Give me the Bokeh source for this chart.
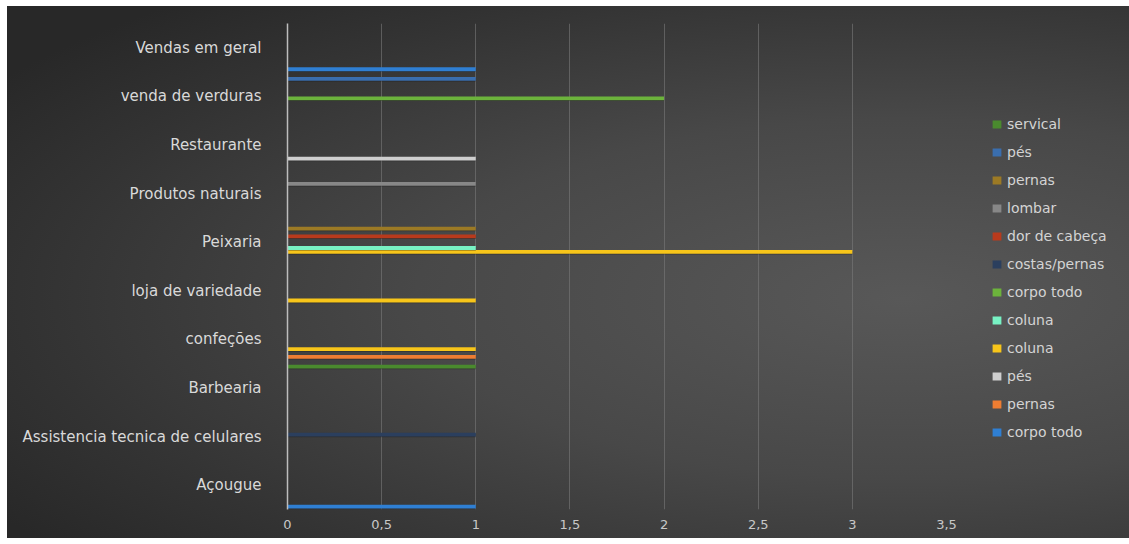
from bokeh.plotting import figure
from bokeh.models import (ColumnDataSource, FactorRange, Legend, LegendItem,
                          FixedTicker, CustomJSTickFormatter)
from bokeh.transform import dodge
from bokeh.embed import file_html
from bokeh.resources import INLINE

# categories, bottom to top (Excel order)
categories = ["Açougue", "Assistencia tecnica de celulares", "Barbearia", "confeções",
              "loja de variedade", "Peixaria", "Produtos naturais", "Restaurante",
              "venda de verduras", "Vendas em geral"]

# series in plotting order (series 1 drawn at the bottom of each category)
series_names = ["corpo todo", "pernas", "pés", "coluna", "coluna", "corpo todo",
                "costas/pernas", "dor de cabeça", "lombar", "pernas", "pés", "servical"]

s01_corpo_todo    = [1, 0, 0, 0, 0, 0, 0, 0, 0, 1]
s02_pernas        = [0, 0, 0, 1, 0, 0, 0, 0, 0, 0]
s03_pes           = [0, 0, 0, 0, 0, 0, 0, 1, 0, 0]
s04_coluna        = [0, 0, 0, 1, 1, 3, 0, 0, 0, 0]
s05_coluna        = [0, 0, 0, 0, 0, 1, 0, 0, 0, 0]
s06_corpo_todo    = [0, 0, 0, 0, 0, 0, 0, 0, 2, 0]
s07_costas_pernas = [0, 1, 0, 0, 0, 0, 0, 0, 0, 0]
s08_dor_cabeca    = [0, 0, 0, 0, 0, 1, 0, 0, 0, 0]
s09_lombar        = [0, 0, 0, 0, 0, 0, 1, 0, 0, 0]
s10_pernas        = [0, 0, 0, 0, 0, 1, 0, 0, 0, 0]
s11_pes           = [0, 0, 0, 0, 0, 0, 0, 0, 1, 0]
s12_servical      = [0, 0, 1, 0, 0, 0, 0, 0, 0, 0]

series_values = [s01_corpo_todo, s02_pernas, s03_pes, s04_coluna, s05_coluna,
                 s06_corpo_todo, s07_costas_pernas, s08_dor_cabeca, s09_lombar,
                 s10_pernas, s11_pes, s12_servical]

colors = ["#2f7fd3", "#ee7d32", "#cfcfcf", "#f7c51a", "#78f2c4", "#6cb33c",
          "#2b3f5e", "#b83a1c", "#878787", "#9c7a25", "#3a6eae", "#4a8a2e"]

x_ticks = [0, 0.5, 1, 1.5, 2, 2.5, 3, 3.5]

p = figure(frame_width=659, frame_height=486,
           y_range=FactorRange(*categories, range_padding=0),
           x_range=(0, 3.5), output_backend="svg", toolbar_location=None,
           min_border_left=280, min_border_right=183, min_border_top=17,
           min_border_bottom=29,
           styles={"margin-left": "7px", "margin-top": "6px",
                   "background": "radial-gradient(ellipse 70% 75% at 58% 55%, #585858 0%, #484848 45%, #333333 80%, #282828 100%)"})
p.background_fill_color = None
p.border_fill_color = None
p.outline_line_color = None

n = len(series_values)
slot = 1.0 / (n + 0.5)
renderers = []
for i, (vals, col) in enumerate(zip(series_values, colors)):
    src = ColumnDataSource(dict(cat=categories, val=vals))
    off = -0.5 + 0.25 * slot + (i + 0.5) * slot
    # shadow
    p.hbar(y=dodge("cat", off - 0.014, range=p.y_range), left=0, right="val",
           height=slot, source=src, fill_color="#151515", fill_alpha=0.4, line_color=None)
    r = p.hbar(y=dodge("cat", off, range=p.y_range), left=0, right="val",
               height=slot, source=src, fill_color=col, line_color=None)
    renderers.append(r)

# axes
p.xaxis.ticker = FixedTicker(ticks=x_ticks)
p.xaxis.formatter = CustomJSTickFormatter(code="return tick.toString().replace('.', ',');")
p.xaxis.axis_line_color = None
p.xaxis.major_tick_line_color = None
p.xaxis.minor_tick_line_color = None
p.xaxis.major_label_text_color = "#c8c8c8"
p.xaxis.major_label_text_font = "DejaVu Sans"
p.xaxis.major_label_text_font_size = "13px"
p.xaxis.major_label_standoff = 4

p.yaxis.axis_line_color = "#bdbdbd"
p.yaxis.axis_line_width = 1.5
p.yaxis.major_tick_line_color = None
p.yaxis.minor_tick_line_color = None
p.yaxis.major_label_text_color = "#d9d9d9"
p.yaxis.major_label_text_font = "DejaVu Sans"
p.yaxis.major_label_text_font_size = "15px"
p.yaxis.major_label_standoff = 20

p.xgrid.ticker = FixedTicker(ticks=x_ticks)
p.xgrid.grid_line_color = "#7a7a7a"
p.xgrid.grid_line_alpha = 0.6
p.ygrid.grid_line_color = None

items = [LegendItem(label=series_names[i], renderers=[renderers[i]]) for i in range(n - 1, -1, -1)]
legend = Legend(items=items, location=(45, 68), border_line_color=None,
                background_fill_alpha=0, label_text_color="#d4d4d4",
                label_text_font="DejaVu Sans", label_text_font_size="14px",
                glyph_width=11, glyph_height=10, label_height=18, spacing=10,
                margin=0, padding=0, label_standoff=5)
p.add_layout(legend, "right")

open("out.html", "w").write(file_html(p, INLINE))
